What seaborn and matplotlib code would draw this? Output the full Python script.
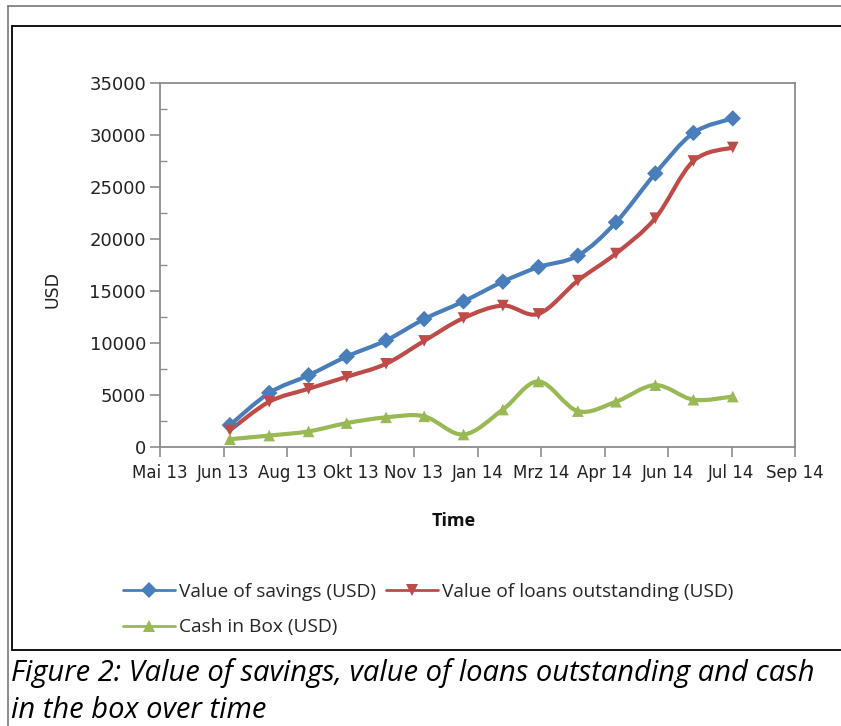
import numpy as np
import pandas as pd
import matplotlib
matplotlib.use("Agg")
import matplotlib.pyplot as plt
import matplotlib.dates as mdates
import seaborn as sns
from matplotlib.path import Path
from matplotlib.patches import PathPatch
from matplotlib.lines import Line2D

# ---------------- data ----------------
dates = ["2013-06-30", "2013-07-31", "2013-08-31", "2013-09-30", "2013-10-31",
         "2013-11-30", "2013-12-31", "2014-01-31", "2014-02-28", "2014-03-31",
         "2014-04-30", "2014-05-31", "2014-06-30", "2014-07-31"]
savings = [2100, 5200, 6900, 8700, 10250, 12300, 14000, 15900, 17300, 18400,
           21600, 26300, 30200, 31600]
loans = [1600, 4350, 5600, 6750, 8000, 10200, 12400, 13600, 12800, 16000,
         18600, 22000, 27500, 28800]
cash = [750, 1100, 1500, 2300, 2850, 2950, 1200, 3600, 6300, 3450,
        4350, 5950, 4550, 4850]

series_names = ["Value of savings (USD)", "Value of loans outstanding (USD)",
                "Cash in Box (USD)"]
series_colors = ["#4A7EBB", "#BE4B48", "#98B954"]
series_markers = ["D", "v", "^"]

x_axis_start = "2013-05-06"
x_axis_step_days = 50
x_tick_labels = ["Mai 13", "Jun 13", "Aug 13", "Okt 13", "Nov 13", "Jan 14",
                 "Mrz 14", "Apr 14", "Jun 14", "Jul 14", "Sep 14"]
y_ticks = [0, 5000, 10000, 15000, 20000, 25000, 30000, 35000]

caption_lines = ["Figure 2: Value of savings, value of loans outstanding and cash",
                 "in the box over time"]

# ---------------- build table ----------------
frames = []
for name, vals in zip(series_names, [savings, loans, cash]):
    frames.append(pd.DataFrame({"date": pd.to_datetime(dates), "value": vals,
                                "series": name}))
df = pd.concat(frames, ignore_index=True)

# ---------------- figure ----------------
sns.set_style("white")
plt.rcParams["font.family"] = ["DejaVu Sans"]

W, H = 841, 726
fig = plt.figure(figsize=(W / 100, H / 100), dpi=100)
ax = fig.add_axes([160 / W, 1 - 447 / H, 635 / W, 364 / H])

palette = dict(zip(series_names, series_colors))
marker_map = dict(zip(series_names, series_markers))


def smooth_path(xs, ys):
    P = np.column_stack([xs, ys]).astype(float)
    Pe = np.vstack([P[0], P, P[-1]])
    verts = [P[0]]
    codes = [Path.MOVETO]
    for i in range(len(P) - 1):
        p0, p1, p2, p3 = Pe[i], Pe[i + 1], Pe[i + 2], Pe[i + 3]
        c1 = p1 + (p2 - p0) / 6.0
        c2 = p2 - (p3 - p1) / 6.0
        verts += [c1, c2, p2]
        codes += [Path.CURVE4] * 3
    return Path(verts, codes)


# markers via seaborn
sns.scatterplot(data=df, x="date", y="value", hue="series", style="series",
                palette=palette, markers=marker_map, s=70, linewidth=0,
                legend=False, ax=ax, zorder=4)

# smoothed lines through data (Excel-like smoothing)
for name, col in zip(series_names, series_colors):
    sub = df[df["series"] == name]
    xs = mdates.date2num(sub["date"].dt.to_pydatetime())
    path = smooth_path(xs, sub["value"].values)
    ax.add_patch(PathPatch(path, fill=False, edgecolor=col, lw=3.0,
                           capstyle="round", joinstyle="round", zorder=3))

# axes
start = pd.Timestamp(x_axis_start)
xticks = [start + pd.Timedelta(days=x_axis_step_days * i)
          for i in range(len(x_tick_labels))]
ax.set_xlim(xticks[0], xticks[-1])
ax.set_xticks(xticks)
ax.set_xticklabels(x_tick_labels, fontsize=12, color="#222222")
ax.set_ylim(y_ticks[0], y_ticks[-1])
ax.set_yticks(y_ticks)
ax.set_yticklabels([str(v) for v in y_ticks], fontsize=13, color="#222222")
ax.set_yticks([2500 + 5000 * i for i in range(7)], minor=True)

spine_col = "#8C8C8C"
for s in ax.spines.values():
    s.set_color(spine_col)
    s.set_linewidth(1.3)
ax.tick_params(axis="y", which="major", direction="out", length=7, width=1.2,
               color=spine_col, pad=3, left=True)
ax.tick_params(axis="y", which="minor", direction="in", length=5, width=1.0,
               color=spine_col, left=True)
ax.tick_params(axis="x", which="major", direction="out", length=7, width=1.2,
               color=spine_col, pad=5, bottom=True)

ax.set_xlabel("Time", fontsize=13, fontweight="bold", family=["Open Sans"],
              color="#111111")
ax.xaxis.set_label_coords((454 - 160) / 635, (447 - 521) / 364)
ax.xaxis.label.set_va("center")
ax.set_ylabel("USD", fontsize=12.5, color="#222222")
ax.yaxis.set_label_coords((52 - 160) / 635, (447 - 290) / 364)
ax.yaxis.label.set_va("center")

# legend
handles = {}
for name, col, mk in zip(series_names, series_colors, series_markers):
    handles[name] = Line2D([], [], color=col, lw=2.0, marker=mk, markersize=8,
                           markeredgewidth=0)
order = [series_names[0], series_names[2], series_names[1]]
fig.legend([handles[n] for n in order], order, ncol=2, frameon=False,
           loc="upper left", bbox_to_anchor=(123 / W, 1 - 583 / H),
           borderpad=0, borderaxespad=0, handlelength=2.7, handletextpad=0.2,
           columnspacing=0.55, labelspacing=0.9,
           prop={"family": "Open Sans", "size": 13.8})

# document frame lines
fig.add_artist(Line2D([8 / W, 8 / W], [0, 1 - 6 / H], color="#777777", lw=1.2,
                      transform=fig.transFigure))
fig.add_artist(Line2D([8 / W, 1], [1 - 6 / H, 1 - 6 / H], color="#777777", lw=1.2,
                      transform=fig.transFigure))
fig.add_artist(Line2D([12 / W, 12 / W], [1 - 26 / H, 1 - 650 / H], color="black",
                      lw=1.3, transform=fig.transFigure))
fig.add_artist(Line2D([12 / W, 1], [1 - 26 / H, 1 - 26 / H], color="black",
                      lw=1.3, transform=fig.transFigure))
fig.add_artist(Line2D([12 / W, 1], [1 - 650 / H, 1 - 650 / H], color="black",
                      lw=1.3, transform=fig.transFigure))

# caption
fig.text(11 / W, 1 - 681 / H, caption_lines[0], fontsize=21, style="italic",
         family=["Open Sans"], va="baseline", ha="left", color="black")
fig.text(11 / W, 1 - 718 / H, caption_lines[1], fontsize=21, style="italic",
         family=["Open Sans"], va="baseline", ha="left", color="black")

fig.savefig("out.png", dpi=100)
